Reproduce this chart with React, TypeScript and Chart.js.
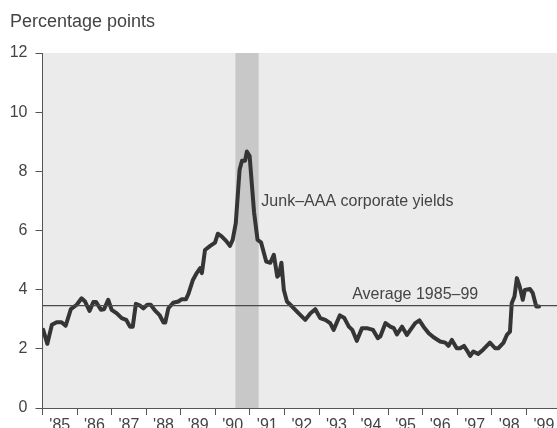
import React, { useEffect, useRef } from "react";
import { Chart, registerables } from "chart.js";

Chart.register(...registerables);

// ---- data ----
const months: number[] = [
  1985.02, 1985.14, 1985.27, 1985.41, 1985.55, 1985.67, 1985.82, 1985.99,
  1986.13, 1986.23, 1986.36, 1986.47, 1986.55, 1986.69, 1986.78, 1986.9,
  1987.0, 1987.15, 1987.29, 1987.42, 1987.53, 1987.61, 1987.7, 1987.82, 1987.92,
  1988.03, 1988.13, 1988.25, 1988.38, 1988.5, 1988.55, 1988.64, 1988.78, 1988.93,
  1989.03, 1989.15, 1989.22, 1989.35, 1989.46, 1989.56, 1989.61, 1989.7, 1989.85, 1989.99,
  1990.07, 1990.18, 1990.31, 1990.42, 1990.5, 1990.59, 1990.7, 1990.77, 1990.86, 1990.91, 1990.99,
  1991.12, 1991.22, 1991.32, 1991.47, 1991.59, 1991.69, 1991.79, 1991.84, 1991.91, 1991.98,
  1992.07, 1992.22, 1992.41, 1992.6, 1992.75, 1992.89,
  1993.03, 1993.18, 1993.32, 1993.42, 1993.6, 1993.73, 1993.86, 1993.96,
  1994.09, 1994.24, 1994.38, 1994.56, 1994.7, 1994.77, 1994.92,
  1995.06, 1995.16, 1995.25, 1995.4, 1995.54, 1995.64, 1995.78, 1995.9,
  1996.02, 1996.17, 1996.31, 1996.5, 1996.65, 1996.74, 1996.84, 1996.98,
  1997.08, 1997.19, 1997.27, 1997.37, 1997.46, 1997.6, 1997.75, 1997.94,
  1998.09, 1998.18, 1998.33, 1998.43, 1998.52, 1998.57, 1998.65, 1998.72, 1998.8, 1998.89, 1998.95,
  1999.1, 1999.18, 1999.28, 1999.36,
];

const junkAaaSpread: number[] = [
  2.64, 2.17, 2.81, 2.9, 2.9, 2.78, 3.34, 3.49,
  3.71, 3.6, 3.28, 3.58, 3.58, 3.32, 3.34, 3.66,
  3.32, 3.2, 3.04, 2.98, 2.75, 2.75, 3.52, 3.46, 3.37,
  3.49, 3.49, 3.3, 3.15, 2.89, 2.89, 3.37, 3.56, 3.6,
  3.68, 3.68, 3.86, 4.33, 4.56, 4.73, 4.56, 5.34, 5.48, 5.59,
  5.89, 5.8, 5.65, 5.48, 5.68, 6.25, 8.05, 8.36, 8.36, 8.67, 8.52,
  6.6, 5.68, 5.6, 4.95, 4.91, 5.18, 4.44, 4.5, 4.91, 3.99,
  3.6, 3.43, 3.2, 2.98, 3.2, 3.34,
  3.04, 2.98, 2.87, 2.64, 3.13, 3.04, 2.75, 2.64,
  2.27, 2.7, 2.7, 2.64, 2.36, 2.42, 2.87,
  2.75, 2.7, 2.49, 2.75, 2.47, 2.64, 2.87, 2.96,
  2.75, 2.53, 2.39, 2.25, 2.21, 2.1, 2.3, 2.02,
  2.02, 2.1, 1.96, 1.76, 1.91, 1.83, 1.98, 2.21,
  2.02, 2.02, 2.2, 2.47, 2.58, 3.54, 3.77, 4.39, 4.11, 3.66, 3.99,
  4.02, 3.88, 3.43, 3.43,
];

const averageValue = 3.46;
const averageSpan: number[] = [1985, 1999.88];
const recessionSpan: number[] = [1990.58, 1991.25];

const xTickYears: number[] = [1985, 1986, 1987, 1988, 1989, 1990, 1991, 1992, 1993, 1994, 1995, 1996, 1997, 1998, 1999];
const xTickLabels: string[] = ["'85", "'86", "'87", "'88", "'89", "'90", "'91", "'92", "'93", "'94", "'95", "'96", "'97", "'98", "'99"];
const yTickValues: number[] = [0, 2, 4, 6, 8, 10, 12];

const titleText = "Percentage points";
const seriesText = "Junk\u2013AAA corporate yields";
const averageText = "Average 1985\u201399";
const seriesTextAnchor: number[] = [1991.33, 6.97];
const averageTextAnchor: number[] = [1995.78, 3.82];

const FONT = "'Liberation Sans', Arial, Helvetica, sans-serif";
const TEXT = "#444444";
const AXIS = "#555555";

export default function App() {
  const ref = useRef<HTMLCanvasElement | null>(null);

  useEffect(() => {
    document.body.style.margin = "0";
    const canvas = ref.current;
    if (!canvas) return;

    const bgPlugin = {
      id: "plotBackground",
      beforeDraw(chart: any) {
        const { ctx, chartArea: a, scales } = chart;
        const x = scales.x;
        ctx.save();
        ctx.fillStyle = "#ebebeb";
        ctx.fillRect(a.left, a.top, a.right - a.left, a.bottom - a.top);
        const x0 = x.getPixelForValue(recessionSpan[0]);
        const x1 = x.getPixelForValue(recessionSpan[1]);
        ctx.fillStyle = "#c8c8c8";
        ctx.fillRect(x0, a.top, x1 - x0, a.bottom - a.top);
        ctx.restore();
      },
      afterDraw(chart: any) {
        const { ctx, scales } = chart;
        const x = scales.x;
        const y = scales.y;
        ctx.save();
        ctx.fillStyle = TEXT;
        ctx.font = `18px ${FONT}`;
        ctx.textBaseline = "alphabetic";
        ctx.textAlign = "left";
        ctx.fillText(titleText, 10, 27);
        ctx.font = `16px ${FONT}`;
        ctx.textBaseline = "middle";
        ctx.fillText(seriesText, x.getPixelForValue(seriesTextAnchor[0]), y.getPixelForValue(seriesTextAnchor[1]));
        ctx.textAlign = "center";
        ctx.fillText(averageText, x.getPixelForValue(averageTextAnchor[0]), y.getPixelForValue(averageTextAnchor[1]));
        ctx.restore();
      },
    };

    const chart = new Chart(canvas, {
      type: "line",
      data: {
        datasets: [
          {
            label: averageText,
            data: averageSpan.map((v) => ({ x: v, y: averageValue })),
            borderColor: "#4a4a4a",
            borderWidth: 1.2,
            pointRadius: 0,
            tension: 0,
          },
          {
            label: seriesText,
            data: months.map((m, i) => ({ x: m, y: junkAaaSpread[i] })),
            borderColor: "#353535",
            borderWidth: 4,
            pointRadius: 0,
            tension: 0,
            borderJoinStyle: "round",
            borderCapStyle: "round",
          },
        ],
      },
      options: {
        responsive: false,
        animation: false,
        devicePixelRatio: 1,
        layout: { padding: { top: 53, left: 0, right: 0, bottom: 0 } },
        plugins: {
          legend: { display: false },
          tooltip: { enabled: false },
          title: { display: false },
        },
        scales: {
          x: {
            type: "linear",
            min: 1985,
            max: 1999.88,
            afterBuildTicks: (s: any) => {
              s.ticks = xTickYears.map((v) => ({ value: v }));
            },
            afterFit: (s: any) => {
              s.height = 20;
              s.paddingLeft = 0;
              s.paddingRight = 0;
            },
            ticks: {
              callback: (v: any) => xTickLabels[xTickYears.indexOf(Number(v))] ?? "",
              labelOffset: 17.3,
              padding: 1,
              color: TEXT,
              font: { size: 16, family: FONT },
              maxRotation: 0,
              autoSkip: false,
            },
            grid: { drawOnChartArea: false, drawTicks: true, tickLength: 7, color: AXIS, lineWidth: 1 },
            border: { color: AXIS, width: 1 },
          },
          y: {
            min: 0,
            max: 12,
            afterBuildTicks: (s: any) => {
              s.ticks = yTickValues.map((v) => ({ value: v }));
            },
            afterFit: (s: any) => {
              s.width = 42.5;
              s.paddingTop = 0;
              s.paddingBottom = 0;
            },
            ticks: {
              padding: 8,
              color: TEXT,
              font: { size: 16, family: FONT },
            },
            grid: { drawOnChartArea: false, drawTicks: true, tickLength: 7, color: AXIS, lineWidth: 1 },
            border: { color: AXIS, width: 1 },
          },
        },
      },
      plugins: [bgPlugin],
    } as any);

    return () => chart.destroy();
  }, []);

  return (
    <div style={{ width: 557, height: 428, position: "relative", background: "#fff" }}>
      <canvas ref={ref} width={557} height={428} style={{ display: "block", width: 557, height: 428 }} />
    </div>
  );
}
